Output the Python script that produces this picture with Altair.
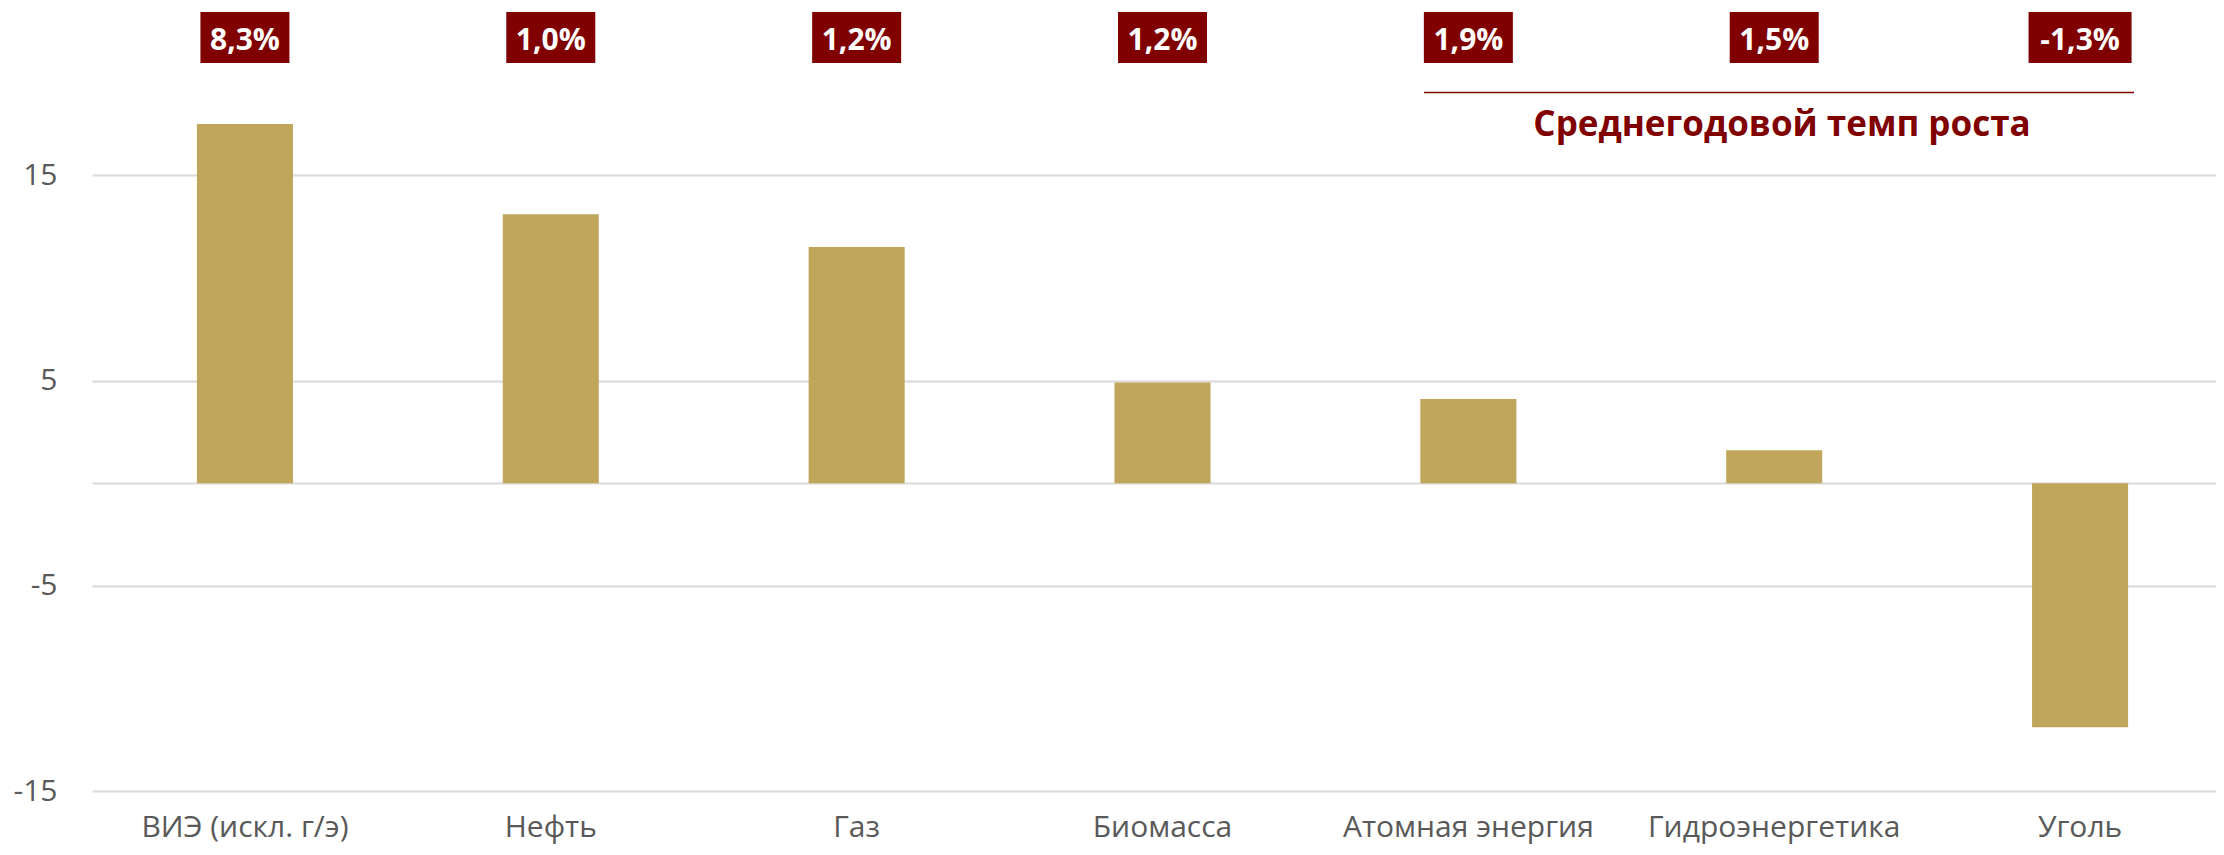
import altair as alt
import pandas as pd

categories = ["ВИЭ (искл. г/э)", "Нефть", "Газ", "Биомасса",
              "Атомная энергия", "Гидроэнергетика", "Уголь"]
values = [17.5, 13.1, 11.5, 4.9, 4.1, 1.6, -11.9]
growth_labels = ["8,3%", "1,0%", "1,2%", "1,2%", "1,9%", "1,5%", "-1,3%"]
y_ticks = [-15, -5, 0, 5, 15]
title_text = "Среднегодовой темп роста"

df = pd.DataFrame({"category": categories, "value": values, "growth": growth_labels})
one = pd.DataFrame({"t": [title_text]})

W = 2141
H = 783
FONT = "Open Sans"
x_scale = alt.Scale(domain=categories, paddingInner=0.686, paddingOuter=0.343)
y_scale = alt.Scale(domain=[-15, 23.15], nice=False, zero=False)

x_axis = alt.Axis(title=None, labelAngle=0, labelFontSize=30,
                  labelColor="#595959", labelFont=FONT, labelLimit=600,
                  labelPadding=45, labelBaseline="alphabetic",
                  domain=False, ticks=False, grid=False)

base = alt.Chart(df)

bars = base.mark_bar(color="#BFA65A").encode(
    x=alt.X("category:N", scale=x_scale, sort=categories, axis=x_axis),
    y=alt.Y("value:Q", scale=y_scale,
            axis=alt.Axis(title=None, values=y_ticks,
                          labelExpr="datum.value === 0 ? '' : '' + datum.value",
                          grid=True, gridColor="#D9D9D9", gridWidth=2,
                          domain=False, ticks=False, labelFontSize=30,
                          labelColor="#595959", labelFont=FONT,
                          labelPadding=35)),
)

boxes = base.transform_calculate(
    w="length(datum.growth) * 14 + 33"
).mark_bar(color="#800000").encode(
    x=alt.X("category:N", scale=x_scale, sort=categories, axis=x_axis),
    y=alt.value(4),
    y2=alt.value(55),
    size=alt.Size("w:Q", scale=None, legend=None),
)

box_text = base.mark_text(color="white", font=FONT, fontWeight="bold",
                          fontSize=30, baseline="alphabetic").encode(
    x=alt.X("category:N", scale=x_scale, sort=categories, axis=x_axis),
    y=alt.value(42),
    text="growth:N",
)

rule = alt.Chart(one).mark_rule(color="#800000", strokeWidth=1.5).encode(
    x=alt.value(1332), x2=alt.value(2042), y=alt.value(84.5)
)

title = alt.Chart(one).mark_text(color="#800000", font=FONT, fontWeight="bold",
                                 fontSize=35, baseline="middle").encode(
    x=alt.value(1690), y=alt.value(117), text="t:N"
)

chart = alt.layer(bars, boxes, box_text, rule, title).properties(
    width=W, height=H,
    autosize=alt.AutoSizeParams(type="none"),
    padding={"left": 84, "top": 0, "right": -17, "bottom": 56},
).configure_view(stroke=None)

chart.save("out.html", embed_options={"renderer": "svg", "actions": False})
